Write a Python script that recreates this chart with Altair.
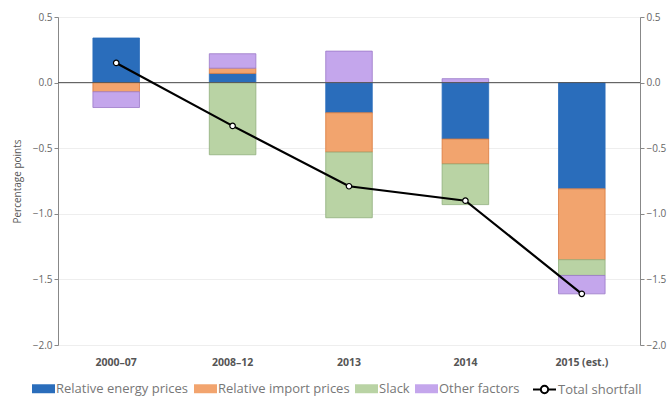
import altair as alt
import pandas as pd

categories = ["2000–07", "2008–12", "2013", "2014", "2015 (est.)"]
components = ["Relative energy prices", "Relative import prices", "Slack", "Other factors"]
energy = [0.34, 0.07, -0.23, -0.43, -0.81]
imports = [-0.07, 0.04, -0.30, -0.19, -0.54]
slack = [0.0, -0.55, -0.50, -0.31, -0.12]
other = [-0.12, 0.11, 0.24, 0.03, -0.14]
total = [0.15, -0.33, -0.79, -0.90, -1.61]
colors = ["#2A6DBB", "#F2A46E", "#B9D3A4", "#C4A6EC"]
strokes = ["#2A6DBB", "#D9783A", "#8FAE7C", "#9A78C8"]

rows = []
for i, c in enumerate(categories):
    for j, (name, vals) in enumerate(zip(components, [energy, imports, slack, other])):
        if vals[i] != 0:
            rows.append({"cat": c, "comp": name, "val": vals[i], "order": j})
bars_df = pd.DataFrame(rows)
line_df = pd.DataFrame({"cat": categories, "total": total, "series": ["Total shortfall"] * 5})

font = "Open Sans"
ydomain = [-2.0, 0.5]
ticks = [0.5, 0.0, -0.5, -1.0, -1.5, -2.0]

xenc = alt.X("cat:N", sort=categories, title=None,
             scale=alt.Scale(paddingInner=0.6, paddingOuter=0.3),
             axis=alt.Axis(labelAngle=0, labelFontWeight="bold", labelColor="#555",
                           labelFontSize=10.5, ticks=False, domain=False, labelPadding=12))

bars = alt.Chart(bars_df).mark_bar(strokeWidth=0.8).encode(
    x=xenc,
    y=alt.Y("val:Q", stack="zero",
            scale=alt.Scale(domain=ydomain, nice=False),
            axis=alt.Axis(values=ticks, format=".1f",
                          title="Percentage points", titleFontWeight="normal",
                          titleFontSize=10, titleColor="#555", labelColor="#666",
                          labelFontSize=10, gridColor="#eeeeee", domainColor="#888",
                          tickColor="#888", tickSize=4, titlePadding=10)),
    fill=alt.Fill("comp:N", scale=alt.Scale(domain=components, range=colors),
                  legend=alt.Legend(title=None, orient="none", direction="horizontal",
                                    legendX=-26, legendY=360,
                                    symbolType="M-1,-0.39L1,-0.39L1,0.39L-1,0.39Z",
                                    symbolSize=529, symbolStrokeWidth=0,
                                    labelFontSize=13, labelColor="#777",
                                    columnPadding=5, labelOffset=1)),
    stroke=alt.Stroke("comp:N", scale=alt.Scale(domain=components, range=strokes), legend=None),
    order=alt.Order("order:Q"),
)

zero = alt.Chart(pd.DataFrame({"y": [0.0]})).mark_rule(color="#555", strokeWidth=1).encode(
    y=alt.Y("y:Q", scale=alt.Scale(domain=ydomain, nice=False), axis=None))

line = alt.Chart(line_df).mark_line(strokeWidth=2.2).encode(
    x=alt.X("cat:N", sort=categories),
    y=alt.Y("total:Q", scale=alt.Scale(domain=ydomain, nice=False),
            axis=alt.Axis(orient="right", values=ticks,
                          format=".1f", title=None, grid=False, labelColor="#666",
                          labelFontSize=10, domainColor="#888", tickColor="#888", tickSize=4)),
    stroke=alt.Stroke("series:N", scale=alt.Scale(range=["black"]),
                      legend=alt.Legend(title=None, orient="none", direction="horizontal",
                                        legendX=474, legendY=360,
                                        symbolType="M-1,0L-0.32,0M0.32,0L1,0M0.32,0A0.32,0.32 0 1,0 -0.32,0A0.32,0.32 0 1,0 0.32,0",
                                        symbolSize=529, symbolStrokeWidth=2,
                                        symbolFillColor="white",
                                        labelFontSize=13, labelColor="#777",
                                        labelOffset=1)),
)
points = alt.Chart(line_df).mark_point(filled=True, fill="white", stroke="black",
                                       strokeWidth=1.2, size=30, opacity=1).encode(
    x=alt.X("cat:N", sort=categories),
    y=alt.Y("total:Q", scale=alt.Scale(domain=ydomain, nice=False), axis=None),
)

chart = alt.layer(bars, zero, line, points).resolve_axis(y="independent").resolve_scale(
    stroke="independent").properties(
    width=582, height=328,
    padding={"left": 58, "top": 17, "right": 32, "bottom": 52},
    autosize=alt.AutoSizeParams(type="none"),
).configure_view(stroke="#777").configure(font=font, background="white")

chart.save("out.html", embed_options={"renderer": "svg", "actions": False})
